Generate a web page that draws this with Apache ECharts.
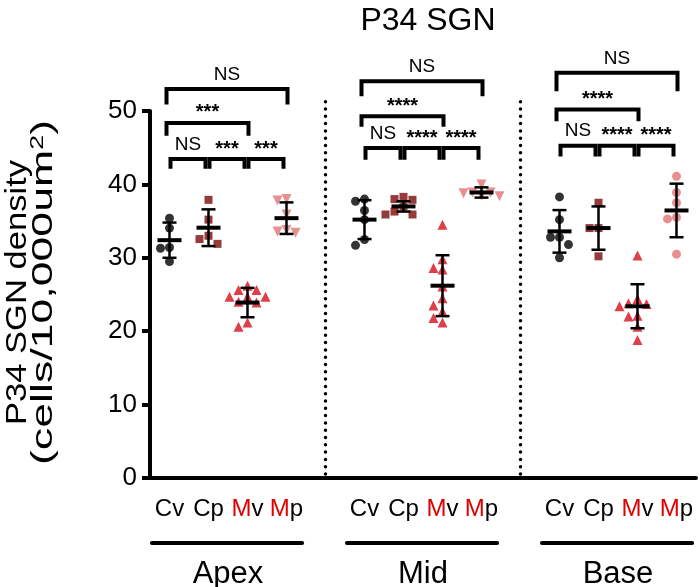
<!DOCTYPE html>
<html>
<head>
<meta charset="utf-8">
<script src="https://cdn.jsdelivr.net/npm/echarts@6/dist/echarts.min.js"></script>
<style>
  html, body { margin: 0; padding: 0; background: #fff; }
  #chart { width: 700px; height: 587px; }
</style>
</head>
<body>
<div id="chart"></div>
<script>
var FONT = '"Liberation Sans", Arial, Helvetica, sans-serif';

// categories
var regions = ['Apex', 'Mid', 'Base'];
var conditions = ['Cv', 'Cp', 'Mv', 'Mp'];
var tickLabels = ['Cv', 'Cp', 'Mv', 'Mp', '', 'Cv', 'Cp', 'Mv', 'Mp', '', 'Cv', 'Cp', 'Mv', 'Mp'];
var yTitle = ['P34 SGN density', '(cells/10,000um', '2', ')'];

// single animals, one list per region (Apex, Mid, Base)
var cvVals = [
  [35.4, 34.05, 31.4, 31.3, 29.5],
  [38.0, 37.7, 36.45, 35.2, 32.5, 31.7],
  [38.3, 35.2, 32.8, 32.8, 31.8, 30.0]
];
var cpVals = [
  [37.9, 35.2, 33.0, 32.55, 31.9],
  [38.3, 38.0, 37.9, 37.0, 36.3, 35.9, 35.9],
  [37.5, 34.05, 34.05, 30.2]
];
var mvVals = [
  [26.2, 25.6, 25.6, 24.7, 24.7, 24.7, 24.0, 23.9, 21.2, 20.6],
  [34.5, 29.8, 28.6, 28.4, 26.1, 24.5, 23.5, 22.7, 21.8, 21.2],
  [30.3, 24.4, 23.8, 23.7, 23.4, 22.1, 22.0, 20.6, 18.8]
];
var mpVals = [
  [38.0, 37.8, 35.9, 33.8, 33.6, 33.4],
  [40.0, 38.9, 38.9, 38.8, 38.5, 38.4],
  [41.1, 38.9, 37.5, 35.5, 35.3, 30.5]
];

// mean and SD per region, order Cv Cp Mv Mp
var meanVals = [
  [32.4, 34.1, 23.9, 35.4],
  [35.2, 37.0, 26.2, 38.9],
  [33.6, 34.05, 23.4, 36.45]
];
var sdVals = [
  [2.4, 2.5, 2.0, 2.15],
  [2.65, 0.7, 4.15, 0.7],
  [2.9, 2.95, 3.0, 3.65]
];

// comparisons: from, to (category slot), bar height, leg end, label
var brackets = [
  [0, 1, 43.46, 42.14, 'NS'], [1, 2, 43.46, 42.14, '***'], [2, 3, 43.46, 42.14, '***'],
  [0, 2, 48.37, 46.64, '***'], [0, 3, 53.0, 50.87, 'NS'],
  [5, 6, 44.96, 43.36, 'NS'], [6, 7, 44.96, 43.36, '****'], [7, 8, 44.96, 43.36, '****'],
  [5, 7, 49.27, 47.86, '****'], [5, 8, 54.04, 52.0, 'NS'],
  [10, 11, 45.27, 43.8, 'NS'], [11, 12, 45.27, 43.8, '****'], [12, 13, 45.27, 43.8, '****'],
  [10, 12, 50.2, 48.6, '****'], [10, 13, 55.2, 52.7, 'NS']
];
var separators = [4, 9];
var sepTop = 51.3;

var GRID = { left: 150, right: 4, top: 111, bottom: 109, containLabel: false, outerBoundsMode: 'none' };
var pxX = (700 - GRID.left - GRID.right) / tickLabels.length;
var pxY = (587 - GRID.top - GRID.bottom) / 50;

// spread overlapping points sideways, like a column scatter
function swarm(vals, center) {
  var placed = [];
  var step = 9 / pxX;
  var order = [0, -1, 1, -2, 2, -3, 3];
  return vals.map(function (v) {
    for (var k = 0; k < order.length; k++) {
      var off = order[k] * step;
      var ok = placed.every(function (p) {
        var dx = (p[0] - off) * pxX, dy = (p[1] - v) * pxY;
        return dx * dx + dy * dy >= 81;
      });
      if (ok) { placed.push([off, v]); return [center + off, v]; }
    }
    return [center, v];
  });
}

function pointsFor(lists, condIdx) {
  var out = [];
  lists.forEach(function (vals, r) {
    out = out.concat(swarm(vals, r * 5 + condIdx));
  });
  return out;
}

var barData = [];
meanVals.forEach(function (row, r) {
  row.forEach(function (m, c) { barData.push([r * 5 + c, m, sdVals[r][c]]); });
});

function renderBar(params, api) {
  var x = api.value(0), m = api.value(1), s = api.value(2);
  var c = api.coord([x, m]), hi = api.coord([x, m + s]), lo = api.coord([x, m - s]);
  var st = { stroke: '#000', lineWidth: 2.5 };
  return {
    type: 'group',
    children: [
      { type: 'line', shape: { x1: c[0], y1: hi[1], x2: c[0], y2: lo[1] }, style: st },
      { type: 'line', shape: { x1: c[0] - 7, y1: hi[1], x2: c[0] + 7, y2: hi[1] }, style: st },
      { type: 'line', shape: { x1: c[0] - 7, y1: lo[1], x2: c[0] + 7, y2: lo[1] }, style: st },
      { type: 'line', shape: { x1: c[0] - 12, y1: c[1], x2: c[0] + 12, y2: c[1] }, style: { stroke: '#000', lineWidth: 4 } }
    ]
  };
}

function renderBracket(params, api) {
  var b = brackets[params.dataIndex];
  var p1 = api.coord([b[0], b[2]]), p2 = api.coord([b[1], b[2]]), leg = api.coord([b[0], b[3]]);
  var l, r;
  if (b[1] - b[0] === 1) { l = p1[0] + 1; r = p2[0] - 3; }
  else { l = p1[0] - 3; r = p2[0] + 1; }
  var stars = b[4].charAt(0) === '*';
  return {
    type: 'group',
    children: [
      {
        type: 'polyline',
        shape: { points: [[l, leg[1]], [l, p1[1]], [r, p1[1]], [r, leg[1]]] },
        style: { stroke: '#000', lineWidth: 4, fill: null, lineJoin: 'miter' }
      },
      {
        type: 'text',
        style: {
          x: (l + r) / 2, y: p1[1] - (stars ? 0 : 5), text: b[4],
          align: 'center', verticalAlign: 'bottom',
          font: (stars ? 'bold 20px ' : '19px ') + FONT, fill: '#000'
        }
      }
    ]
  };
}

function renderSeparator(params, api) {
  var x = api.value(0);
  var a = api.coord([x, 0]), b = api.coord([x, api.value(1)]);
  return {
    type: 'line',
    shape: { x1: a[0], y1: a[1] - 4, x2: b[0], y2: b[1] },
    style: { stroke: '#000', lineWidth: 3.5, lineDash: [0, 7.3], lineCap: 'round' }
  };
}

function renderRegion(params, api) {
  var i = params.dataIndex;
  var a = api.coord([i * 5 - 0.45, 0]), b = api.coord([i * 5 + 3.4, 0]);
  var mid = api.coord([i * 5 + 1.5, 0]);
  return {
    type: 'group',
    children: [
      { type: 'line', shape: { x1: a[0], y1: a[1] + 65, x2: b[0], y2: b[1] + 65 },
        style: { stroke: '#000', lineWidth: 4, lineCap: 'round' } },
      { type: 'text', style: { x: mid[0], y: a[1] + 96, text: regions[i], align: 'center',
        verticalAlign: 'middle', font: '31px ' + FONT, fill: '#000' } }
    ]
  };
}

// y title: two rotated lines, stretched along the text to the lengths in the figure
var measureCtx = document.createElement('canvas').getContext('2d');
function textWidth(t, size) {
  measureCtx.font = size + 'px ' + FONT;
  return measureCtx.measureText(t).width;
}
var TITLE_SIZE = 30, SUP_SIZE = 18;
var w1 = textWidth(yTitle[0], TITLE_SIZE);
var w2 = textWidth(yTitle[1] + yTitle[3], TITLE_SIZE) + textWidth(yTitle[2], SUP_SIZE);
var yTitleGraphic = [
  {
    type: 'text', x: 18, y: 292.5, rotation: Math.PI / 2, scaleX: 265 / w1,
    style: { text: yTitle[0], align: 'center', verticalAlign: 'middle',
      font: TITLE_SIZE + 'px ' + FONT, fill: '#000' }
  },
  {
    type: 'text', x: 44, y: 292.5, rotation: Math.PI / 2, scaleX: 345 / w2,
    style: {
      text: yTitle[1] + '{sup|' + yTitle[2] + '}' + yTitle[3], align: 'center', verticalAlign: 'middle',
      font: TITLE_SIZE + 'px ' + FONT, fill: '#000',
      rich: { sup: { font: SUP_SIZE + 'px ' + FONT, verticalAlign: 'top', lineHeight: 30 } }
    }
  }
];

var chart = echarts.init(document.getElementById('chart'), null, { renderer: 'canvas' });
chart.setOption({
  animation: false,
  backgroundColor: '#fff',
  title: {
    text: 'P34 SGN', left: 423, top: 0, textAlign: 'center',
    textStyle: { fontSize: 32, fontWeight: 'normal', fontFamily: FONT, color: '#000' }
  },
  graphic: yTitleGraphic,
  grid: GRID,
  xAxis: [
    {
      type: 'category', data: tickLabels, boundaryGap: true,
      axisLine: { onZero: false, lineStyle: { color: '#000', width: 4 } },
      axisTick: { alignWithLabel: true, interval: 0, length: 7, lineStyle: { color: '#000', width: 4 } },
      axisLabel: {
        interval: 0, margin: 19, fontSize: 24, color: '#000', fontFamily: FONT,
        formatter: function (v) {
          return v.charAt(0) === 'M' ? '{m|M}{t|' + v.slice(1) + '}' : v;
        },
        rich: {
          m: { color: '#e00000', fontSize: 24, fontFamily: FONT },
          t: { color: '#000', fontSize: 24, fontFamily: FONT }
        }
      },
      splitLine: { show: false }
    },
    { type: 'value', min: -0.5, max: tickLabels.length - 0.5, show: false }
  ],
  yAxis: {
    type: 'value', min: 0, max: 50, interval: 10,
    axisLine: { show: true, onZero: false, lineStyle: { color: '#000', width: 4 } },
    axisTick: { show: true, length: 8, lineStyle: { color: '#000', width: 4 } },
    axisLabel: { fontSize: 26, color: '#000', margin: 13, fontFamily: FONT },
    splitLine: { show: false }
  },
  series: [
    { name: 'Cv', type: 'scatter', xAxisIndex: 1, symbol: 'circle', symbolSize: 9,
      itemStyle: { color: '#000' }, data: pointsFor(cvVals, 0), z: 2 },
    { name: 'Cp', type: 'scatter', xAxisIndex: 1, symbol: 'rect', symbolSize: 8,
      itemStyle: { color: '#7a0a0a' }, data: pointsFor(cpVals, 1), z: 2 },
    { name: 'Mv', type: 'scatter', xAxisIndex: 1, symbol: 'triangle', symbolSize: 10,
      itemStyle: { color: '#d4101c' }, data: pointsFor(mvVals, 2), z: 2 },
    { name: 'Mp', type: 'scatter', xAxisIndex: 1, symbol: 'triangle', symbolRotate: 180, symbolSize: 10,
      itemStyle: { color: '#e27474' }, data: pointsFor(mpVals.slice(0, 2), 3), z: 2 },
    { name: 'Mp base', type: 'scatter', xAxisIndex: 1, symbol: 'circle', symbolSize: 9,
      itemStyle: { color: '#e27474' }, data: swarm(mpVals[2], 13), z: 2 },
    { type: 'custom', xAxisIndex: 1, renderItem: renderBar, data: barData, z: 3,
      encode: { x: 0, y: 1 } },
    { type: 'custom', xAxisIndex: 1, renderItem: renderBracket,
      data: brackets.map(function (b) { return [b[0], b[2]]; }), z: 3, encode: { x: 0, y: 1 } },
    { type: 'custom', xAxisIndex: 1, renderItem: renderSeparator,
      data: separators.map(function (s) { return [s, sepTop]; }), z: 1, encode: { x: 0, y: 1 } },
    { type: 'custom', xAxisIndex: 1, renderItem: renderRegion,
      data: regions.map(function (r, i) { return [i * 5 + 1.5, 0]; }), z: 3, encode: { x: 0, y: 1 } }
  ]
});
</script>
</body>
</html>
